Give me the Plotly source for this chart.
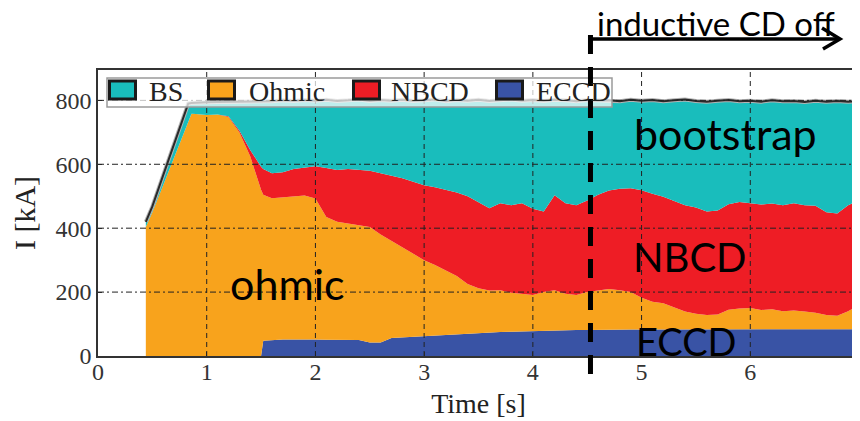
import plotly.graph_objects as go

# ---------------- data ----------------
time_s = [0.44, 0.5, 0.6, 0.7, 0.8, 0.83, 0.86, 0.9, 1.0, 1.1, 1.2, 1.3, 1.4, 1.5, 1.52,
          1.6, 1.7, 1.8, 1.9, 2.0, 2.1, 2.2, 2.3, 2.4, 2.5, 2.6, 2.7, 2.8, 2.9, 3.0,
          3.1, 3.2, 3.3, 3.4, 3.5, 3.6, 3.7, 3.8, 3.9, 4.0, 4.1, 4.2, 4.3, 4.4, 4.5,
          4.6, 4.7, 4.8, 4.9, 5.0, 5.1, 5.2, 5.3, 5.4, 5.5, 5.6, 5.7, 5.8, 5.9, 6.0,
          6.1, 6.2, 6.3, 6.4, 6.5, 6.6, 6.7, 6.8, 6.9, 7.0]

eccd_kA = [0, 0, 0, 0, 0, 0, 0, 0, 0, 0, 0, 0, 0, 0, 48,
           50, 52, 52, 53, 52, 51, 50, 49, 50, 42, 42, 56, 58, 60, 62,
           64, 66, 68, 71, 72, 74, 75, 76, 77, 79, 79, 80, 80, 81, 81,
           82, 82, 82, 83, 83, 83, 83, 84, 84, 84, 84, 84, 84, 84, 84,
           84, 84, 84, 84, 84, 84, 84, 84, 84, 84]

ohmic_kA = [404, 450, 535, 620, 706, 731, 758, 757, 754, 756, 748, 700, 625, 520, 457,
            444, 445, 448, 449, 441, 384, 370, 365, 358, 362, 338, 304, 284, 260, 238,
            221, 202, 182, 154, 140, 131, 131, 122, 118, 112, 121, 126, 115, 110, 119,
            123, 128, 124, 117, 99, 87, 82, 68, 55, 48, 44, 46, 61, 65, 66,
            60, 62, 56, 58, 55, 51, 44, 42, 56, 75]

nbcd_kA = [0, 0, 0, 0, 0, 0, 0, 0, 0, 0, 2, 6, 20, 72, 80,
           78, 78, 85, 88, 101, 153, 162, 171, 175, 176, 192, 205, 214, 225, 234,
           243, 252, 262, 275, 268, 257, 272, 274, 283, 270, 252, 297, 283, 281, 287,
           300, 308, 317, 325, 337, 338, 333, 333, 333, 333, 324, 325, 330, 333, 328,
           330, 331, 332, 336, 333, 335, 322, 320, 332, 328]

bs_kA = [16, 18, 31, 43, 54, 59, 34, 36, 40, 39, 45, 89, 151, 205, 212,
         225, 225, 213, 211, 205, 214, 216, 215, 220, 218, 229, 234, 246, 253, 266,
         275, 277, 289, 299, 322, 336, 322, 331, 321, 340, 346, 299, 322, 325, 314,
         294, 282, 274, 277, 280, 293, 299, 315, 331, 333, 344, 344, 326, 315, 321,
         322, 323, 325, 320, 323, 329, 346, 352, 324, 311]

total_kA = [420, 468, 566, 663, 760, 790, 792, 793, 794, 795, 795, 795, 796, 797, 797,
            797, 800, 798, 801, 799, 802, 798, 800, 803, 798, 801, 799, 802, 798, 800,
            803, 797, 801, 799, 802, 798, 800, 803, 799, 801, 798, 802, 800, 797, 801,
            799, 800, 797, 802, 799, 801, 797, 800, 803, 798, 796, 799, 801, 797, 799,
            796, 800, 797, 798, 795, 799, 796, 798, 796, 798]

series_names = ["BS", "Ohmic", "NBCD", "ECCD"]
series_colors = {"BS": "#19BDBC", "Ohmic": "#F8A31C", "NBCD": "#EE1D25", "ECCD": "#3953A5"}
x_ticks = [0, 1, 2, 3, 4, 5, 6, 7]
y_ticks = [0, 200, 400, 600, 800]
t_inductive_off = 4.53
region_labels = [("bootstrap", 5.77, 697), ("NBCD", 5.45, 310), ("ohmic", 1.74, 228), ("ECCD", 5.41, 46)]

# ---------------- geometry (layout only) ----------------
# the page body has an 8px margin; the figure is sized so the plot area lands
# at window pixels x 98..859, y 70..356
OFF = 8
W, H = 860 - OFF, 421 - OFF
PL, PR, PT, PB = 98, 859, 70, 356          # plot area in window pixels
ML, MT = PL - OFF, PT - OFF
MR, MB = W - (PR - OFF), H - (PB - OFF)
PW, PH = PR - PL, PB - PT


def px_x(p):  # window pixel x -> paper
    return (p - PL) / PW


def px_y(p):  # window pixel y -> paper
    return (PB - p) / PH


fig = go.Figure()

stack_order = [("ECCD", eccd_kA), ("Ohmic", ohmic_kA), ("NBCD", nbcd_kA), ("BS", bs_kA)]
for name, vals in stack_order:
    fig.add_trace(go.Scatter(
        x=time_s, y=vals, name=name, mode="lines", stackgroup="one",
        line=dict(width=0, color=series_colors[name]), fillcolor=series_colors[name],
        hoverinfo="skip", showlegend=False))

fig.add_trace(go.Scatter(x=time_s, y=total_kA, mode="lines", name="total halo",
                         line=dict(color="#b4b4b4", width=4), hoverinfo="skip", showlegend=False))
fig.add_trace(go.Scatter(x=time_s, y=total_kA, mode="lines", name="total",
                         line=dict(color="#2a2a2a", width=2), hoverinfo="skip", showlegend=False))

serif = "Liberation Serif, Times New Roman, serif"
sans = "Lato, Open Sans, sans-serif"

fig.update_layout(
    width=W, height=H, margin=dict(l=ML, r=MR, t=MT, b=MB, pad=0),
    paper_bgcolor="white", plot_bgcolor="white", showlegend=False,
    font=dict(family=serif, color="#333"),
)
fig.update_xaxes(
    range=[0, 7], tickvals=x_ticks, ticktext=[str(v) for v in x_ticks],
    showgrid=False, zeroline=False, ticks="inside", ticklen=4, tickcolor="#333",
    showline=True, linecolor="#333", linewidth=1.5, mirror=True, layer="above traces",
    tickfont=dict(family=serif, size=24, color="#333"), automargin=False,
    ticklabelstandoff=-7,
    title=dict(text="Time [s]", font=dict(family=serif, size=28, color="#222"), standoff=10),
)
fig.update_yaxes(
    range=[0, 895], tickvals=y_ticks, ticktext=[str(v) for v in y_ticks],
    showgrid=False, zeroline=False, ticks="inside", ticklen=4, tickcolor="#333",
    showline=True, linecolor="#333", linewidth=1.5, mirror=True, layer="above traces",
    tickfont=dict(family=serif, size=24, color="#333"), automargin=False,
    title=dict(text="I [kA]", font=dict(family=serif, size=30, color="#222"), standoff=12),
)

shapes = []
# grid lines above the filled areas
for v in x_ticks[1:-1]:
    shapes.append(dict(type="line", xref="x", yref="paper", x0=v, x1=v, y0=0, y1=1,
                       line=dict(color="#222", width=1, dash="5px,4px"), layer="above"))
for v in y_ticks[1:]:
    shapes.append(dict(type="line", xref="paper", yref="y", x0=0, x1=1, y0=v, y1=v,
                       line=dict(color="#222", width=1, dash="6px,3px,2px,3px"), layer="above"))

# legend frame (drawn manually to match the boxed swatches)
shapes.append(dict(type="rect", xref="paper", yref="paper",
                   x0=px_x(107), x1=px_x(612), y0=px_y(107), y1=px_y(78),
                   fillcolor="rgba(255,255,255,0.72)", line=dict(color="#9a9a9a", width=1.5),
                   layer="above"))
legend_swatch_px = [108, 207, 352, 495]
legend_text_px = [147, 247, 389, 534]
annotations = []
for name, sx, tx in zip(series_names, legend_swatch_px, legend_text_px):
    shapes.append(dict(type="rect", xref="paper", yref="paper",
                       x0=px_x(sx + 1.5), x1=px_x(sx + 27.5), y0=px_y(99), y1=px_y(81),
                       fillcolor=series_colors[name], line=dict(color="#1a1a1a", width=3),
                       layer="above"))
    annotations.append(dict(text=name, xref="paper", yref="paper", x=px_x(tx), y=px_y(91),
                            xanchor="left", yanchor="middle", showarrow=False,
                            font=dict(family=serif, size=28, color="#222")))

# inductive CD off marker
shapes.append(dict(type="line", xref="x", yref="paper", x0=t_inductive_off, x1=t_inductive_off,
                   y0=px_y(35), y1=px_y(382),
                   line=dict(color="black", width=5, dash="19px,13px"), layer="above"))
shapes.append(dict(type="line", xref="x", yref="paper", x0=t_inductive_off, x1=(839 - PL) / PW * 7,
                   y0=px_y(39), y1=px_y(39), line=dict(color="black", width=3.5), layer="above"))
shapes.append(dict(type="path", xref="paper", yref="paper",
                   path=f"M {px_x(822)} {px_y(28)} L {px_x(840)} {px_y(39)} L {px_x(823)} {px_y(49)}",
                   line=dict(color="black", width=3.5), layer="above"))

annotations.append(dict(text="inductive CD off", xref="paper", yref="paper",
                        x=px_x(716), y=px_y(23), xanchor="center", yanchor="middle",
                        showarrow=False, font=dict(family=sans, size=33, color="black")))

label_sizes = {"bootstrap": 43, "NBCD": 40, "ohmic": 43, "ECCD": 38}
for text, lx, ly in region_labels:
    annotations.append(dict(text=text, xref="x", yref="y", x=lx, y=ly, xanchor="center",
                            yanchor="middle", showarrow=False,
                            font=dict(family=sans, size=label_sizes[text], color="black")))

fig.update_layout(shapes=shapes, annotations=annotations)
fig.write_html("out.html")
